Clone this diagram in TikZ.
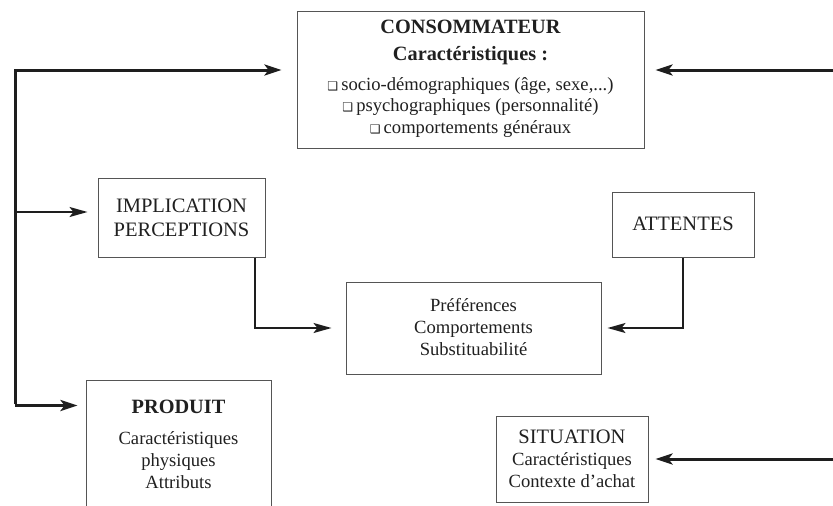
\documentclass[tikz,border=0pt]{standalone}
\usepackage{fontspec}
\setmainfont{Liberation Serif}
\newfontfamily\dejavu{DejaVu Sans}
\usetikzlibrary{arrows.meta}
\definecolor{boxgray}{HTML}{555555}
\definecolor{ink}{HTML}{1E1E1E}
\definecolor{txt}{HTML}{202020}
\tikzset{
  boxst/.style={draw=boxgray, line width=1pt, inner sep=0pt, fill=none},
  big/.style={anchor=base, inner sep=0pt, text=txt, font=\fontsize{20.5}{24}\selectfont},
  bigb/.style={anchor=base, inner sep=0pt, text=txt, font=\fontsize{20.3}{24}\selectfont\bfseries},
  small/.style={anchor=base, inner sep=0pt, text=txt, font=\fontsize{18.6}{21}\selectfont},
  thickarrow/.style={draw=ink, line width=3pt, -{Stealth[length=17pt,width=11pt,inset=4pt]}},
  medarrow/.style={draw=ink, line width=2pt, -{Stealth[length=18pt,width=10pt,inset=4pt]}},
}
\newcommand{\bx}{{\dejavu\fontsize{12}{12}\selectfont ❑}\,}
\begin{document}
\begin{tikzpicture}[x=1pt,y=-1pt]
\clip (0,0) rectangle (833,506);
\fill[white] (0,0) rectangle (833,506);
% boxes
\node[boxst, minimum width=347pt, minimum height=137pt] (cons) at (470.5,79.5) {};
\node[boxst, minimum width=167pt, minimum height=79pt] (impl) at (181.5,217.5) {};
\node[boxst, minimum width=142pt, minimum height=65pt] (att) at (683,224.5) {};
\node[boxst, minimum width=255pt, minimum height=92pt] (pref) at (473.5,328) {};
\node[boxst, minimum width=185pt, minimum height=150pt] (prod) at (178.5,455) {};
\node[boxst, minimum width=152pt, minimum height=86pt] (sit) at (572,459) {};
% texts
\node[bigb] (c1) at (470.5,34) {CONSOMMATEUR};
\node[bigb] (c2) at (470.5,60) {Caractéristiques :};
\node[small] (c3) at (470.5,90) {\bx socio-démographiques (âge, sexe,...)};
\node[small] (c4) at (470.5,111.5) {\bx psychographiques (personnalité)};
\node[small] (c5) at (470.5,133) {\bx comportements généraux};
\node[big] (i1) at (181.5,212) {IMPLICATION};
\node[big] (i2) at (181.5,236) {PERCEPTIONS};
\node[big] (a1) at (683,230) {ATTENTES};
\node[small] (p1) at (473.5,311) {Préférences};
\node[small] (p2) at (473.5,333) {Comportements};
\node[small] (p3) at (473.5,355) {Substituabilité};
\node[bigb] (r1) at (178.5,413) {PRODUIT};
\node[small] (r2) at (178.5,444) {Caractéristiques};
\node[small] (r3) at (178.5,466) {physiques};
\node[small] (r4) at (178.5,488) {Attributs};
\node[big] (s1) at (572,443) {SITUATION};
\node[small] (s2) at (572,465.5) {Caractéristiques};
\node[small] (s3) at (572,487) {Contexte d’achat};
% coordinates
\coordinate (lt) at (15,70);
\coordinate (lm) at (15,212);
\coordinate (lb) at (15,404);
\coordinate (rt) at (840,70);
\coordinate (rs) at (840,459);
% connectors
\draw[thickarrow, shorten >=15pt, line join=miter] (lb) -- (lt) -- (lt -| cons.west);
\draw[thickarrow, shorten >=8pt, line join=miter] ([yshift=-1.5pt]lb) -- ([yshift=-1.5pt]lb -| prod.west);
\draw[medarrow, shorten >=10pt] (lm) -- (lm -| impl.west);
\draw[thickarrow, shorten >=11pt] (rt) -- (rt -| cons.east);
\draw[thickarrow, shorten >=7pt] (rs) -- (rs -| sit.east);
\draw[medarrow, shorten >=14pt] ([xshift=73.5pt]impl.south) |- (pref.west);
\draw[medarrow, shorten >=6pt] (att.south) |- (pref.east);
\end{tikzpicture}
\end{document}
